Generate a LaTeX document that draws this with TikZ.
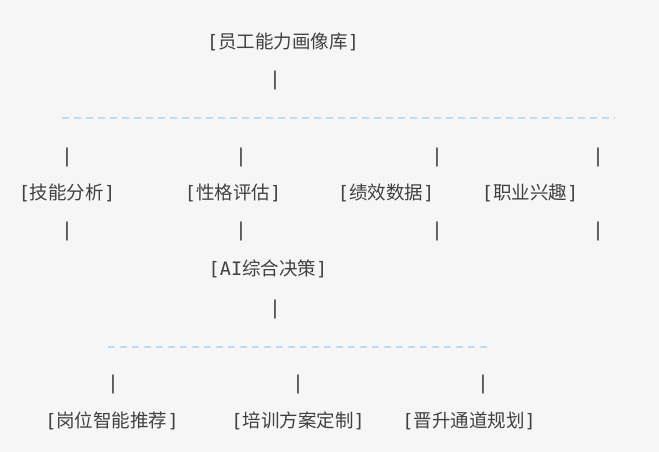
\documentclass[tikz,border=0pt]{standalone}
\usepackage{fontspec}
\setmainfont{Noto Sans CJK SC}
\newfontfamily\monof{DejaVu Sans Mono}
\definecolor{bg}{HTML}{F6F6F6}
\definecolor{dash}{HTML}{BFDDF2}
\definecolor{ink}{HTML}{404040}
\begin{document}
\begin{tikzpicture}[x=1pt,y=-1pt,
  lbl/.style={inner sep=0pt,text=ink,font=\fontsize{18.5}{20}\selectfont},
  bar/.style={inner sep=0pt,text=ink,font=\monof\fontsize{19}{20}\selectfont},
  sep/.style={draw=dash,line width=1.2pt,dash pattern=on 7pt off 5pt}]
\useasboundingbox[fill=bg] (0,0) rectangle (659,452);
\node[lbl] (top) at (283,42) {{\monof[}员工能力画像库{\monof]}};
\node[bar] (b0) at (275,80) {|};
\coordinate (d1a) at (62,118); \coordinate (d1b) at (615,118);
\draw[sep] (d1a) -- (d1b);
\foreach \x/\n in {67/1,241/2,437/3,598/4}{
  \node[bar] (u\n) at (\x,157) {|};
  \node[bar] (l\n) at (\x,231) {|};}
\node[lbl] (s1) at (67,193) {{\monof[}技能分析{\monof]}};
\node[lbl] (s2) at (233,193) {{\monof[}性格评估{\monof]}};
\node[lbl] (s3) at (386,193) {{\monof[}绩效数据{\monof]}};
\node[lbl] (s4) at (530,193) {{\monof[}职业兴趣{\monof]}};
\node[lbl] (ai) at (268,269) {{\monof[AI}综合决策{\monof]}};
\node[bar] (b1) at (275,309) {|};
\coordinate (d2a) at (108,347); \coordinate (d2b) at (487,347);
\draw[sep] (d2a) -- (d2b);
\foreach \x/\n in {113/1,298/2,483/3}{\node[bar] (v\n) at (\x,384) {|};}
\node[lbl] (r1) at (112,421) {{\monof[}岗位智能推荐{\monof]}};
\node[lbl] (r2) at (298,421) {{\monof[}培训方案定制{\monof]}};
\node[lbl] (r3) at (469,421) {{\monof[}晋升通道规划{\monof]}};
\end{tikzpicture}
\end{document}
